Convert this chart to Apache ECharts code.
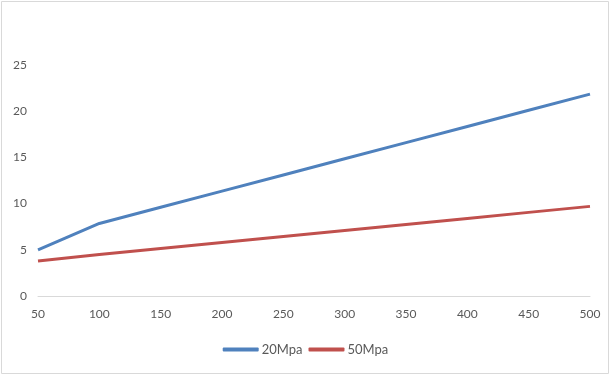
<!DOCTYPE html>
<html>
<head>
<meta charset="utf-8">
<script src="https://cdn.jsdelivr.net/npm/echarts@6/dist/echarts.min.js"></script>
<style>
  html, body { margin: 0; padding: 0; background: #fff; }
  #chart { width: 611px; height: 376px; }
</style>
</head>
<body>
<div id="chart"></div>
<script>
// 数据
const categories = ['50', '100', '150', '200', '250', '300', '350', '400', '450', '500'];
const series20 = [5.0, 7.85, 9.6, 11.35, 13.1, 14.85, 16.6, 18.35, 20.1, 21.85];
const series50 = [3.8, 4.5, 5.15, 5.8, 6.45, 7.1, 7.75, 8.4, 9.05, 9.7];
const seriesNames = ['20Mpa', '50Mpa'];
const colors = ['#4F81BD', '#C0504D'];

const chart = echarts.init(document.getElementById('chart'));

const textStyle = { color: '#595959', fontSize: 12, fontFamily: 'Lato, "Open Sans", sans-serif' };

chart.setOption({
  animation: false,
  color: colors,
  graphic: [{
    type: 'rect',
    shape: { x: 1.5, y: 1.5, width: 607, height: 372 },
    style: { fill: 'none', stroke: '#d9d9d9', lineWidth: 1 },
    silent: true
  }],
  grid: { left: 38, right: 21, top: 65, bottom: 80, containLabel: false },
  legend: {
    data: seriesNames,
    bottom: 15,
    left: 'center',
    icon: 'roundRect',
    itemWidth: 36,
    itemHeight: 4,
    itemGap: 6,
    textStyle: Object.assign({}, textStyle, { fontSize: 13, padding: [0, 0, 0, -2] })
  },
  xAxis: {
    type: 'category',
    boundaryGap: false,
    data: categories,
    axisLine: { lineStyle: { color: '#d9d9d9', width: 1 } },
    axisTick: { show: false },
    axisLabel: Object.assign({ margin: 12 }, textStyle),
    splitLine: { show: false }
  },
  yAxis: {
    type: 'value',
    min: 0,
    max: 25,
    interval: 5,
    axisLine: { show: false },
    axisTick: { show: false },
    axisLabel: Object.assign({ margin: 11 }, textStyle),
    splitLine: { show: false }
  },
  series: [
    {
      name: seriesNames[0],
      type: 'line',
      data: series20,
      symbol: 'none',
      lineStyle: { width: 3, color: colors[0] }
    },
    {
      name: seriesNames[1],
      type: 'line',
      data: series50,
      symbol: 'none',
      lineStyle: { width: 3, color: colors[1] }
    }
  ]
});
</script>
</body>
</html>
